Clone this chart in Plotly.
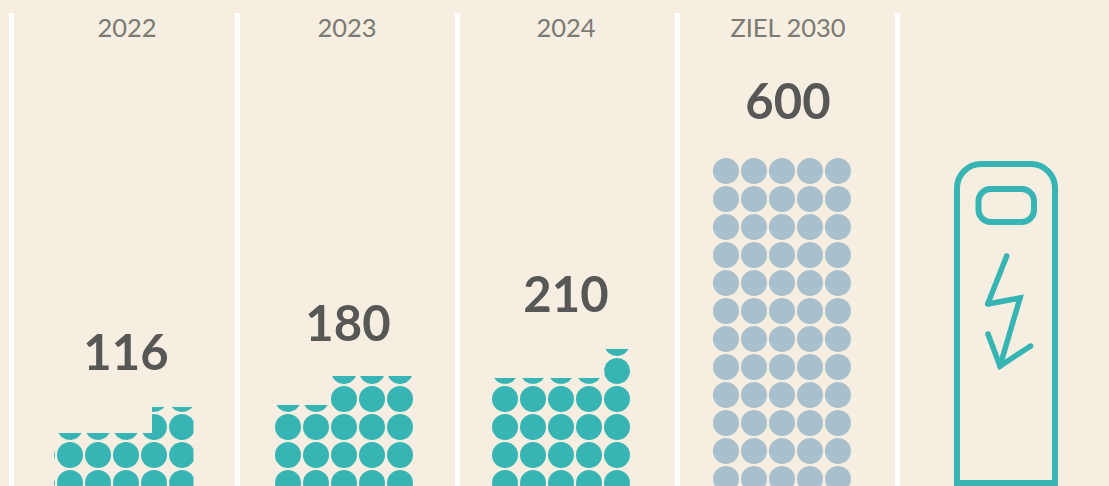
import numpy as np
import plotly.graph_objects as go

# ---- data ----
categories = ["2022", "2023", "2024", "ZIEL 2030"]
values = [116, 180, 210, 600]
stack_low = [2.29, 3.29, 4.25, 12.15]     # stack height (dot rows) of the left part of each block
stack_high = [3.21, 4.32, 5.29, 12.15]    # stack height (dot rows) of the right part of each block
step_column = [3.43, 2.03, 4.04, 0.0]     # column where the higher part starts
colours = ["#37b5b5", "#37b5b5", "#37b5b5", "#a8c0ce"]

# ---- layout constants (pixels) ----
W, H = 1109, 486
CELL = 28.0
BASE = 497.0
BG, TXT_HEAD, TXT_VAL, TEAL = "#f5eee1", "#7b7a74", "#575756", "#37b5b5"
FONT = "Lato"
col0_px = [70, 288, 505, 726]
left_clip = [-0.07, 0.0, 0.0, 0.0]
right_clip = [4.91, 4.98, 5.0, 5.0]
row_shift_px = [0, 0, 0, 4]
head_px = [127, 347, 566, 788]
value_px = [(126, 358), (348, 329), (566, 300), (788, 107)]
divider_px = [11.5, 237.5, 457.5, 677.5, 897.5]
R = 13.0 / CELL


def X(p):
    return p / CELL


def Y(p):
    return (BASE - p) / CELL


def clip_poly(pts, x0, x1, ytop):
    """Sutherland-Hodgman: keep the part of a polygon inside x0<=x<=x1, y<=ytop."""
    def cut(poly, inside, hit):
        out = []
        for i in range(len(poly)):
            a, b = poly[i - 1], poly[i]
            if inside(b):
                if not inside(a):
                    out.append(hit(a, b))
                out.append(b)
            elif inside(a):
                out.append(hit(a, b))
        return out

    def at_x(v):
        return lambda a, b: (v, a[1] + (b[1] - a[1]) * (v - a[0]) / (b[0] - a[0]))

    def at_y(v):
        return lambda a, b: (a[0] + (b[0] - a[0]) * (v - a[1]) / (b[1] - a[1]), v)

    pts = cut(pts, lambda p: p[0] >= x0, at_x(x0))
    if pts:
        pts = cut(pts, lambda p: p[0] <= x1, at_x(x1))
    if pts:
        pts = cut(pts, lambda p: p[1] <= ytop, at_y(ytop))
    return pts


fig = go.Figure()
theta = np.linspace(0, 2 * np.pi, 72, endpoint=False)
for g in range(len(categories)):
    mx, my, px_, py_ = [], [], [], []
    shift = row_shift_px[g] / CELL
    for c in range(-1, 5):
        cx = X(col0_px[g]) + c
        xleft = X(col0_px[g]) + left_clip[g] - 0.5
        xright = X(col0_px[g]) + right_clip[g] - 0.5
        xstep = X(col0_px[g]) + step_column[g] - 0.5
        for r in range(0, int(np.ceil(stack_high[g])) + 1):
            cy = r + 0.5 + shift
            rects = [(xleft, xright, stack_low[g]), (xstep, xright, stack_high[g])]
            whole = any(cx - R >= a and cx + R <= b and cy + R <= t for a, b, t in rects)
            if whole:
                mx.append(cx)
                my.append(cy)
                continue
            circle = [(cx + R * np.cos(t), cy + R * np.sin(t)) for t in theta]
            for a, b, t in rects:
                part = clip_poly(circle, a, b, t)
                if len(part) > 2:
                    px_ += [p[0] for p in part] + [part[0][0], None]
                    py_ += [p[1] for p in part] + [part[0][1], None]
    fig.add_trace(go.Scatter(x=mx, y=my, mode="markers", hoverinfo="skip",
                             marker=dict(size=26, color=colours[g], line=dict(width=0))))
    if px_:
        fig.add_trace(go.Scatter(x=px_, y=py_, mode="lines", fill="toself", fillcolor=colours[g],
                                 line=dict(width=0), hoverinfo="skip"))

# header and value labels
fig.add_trace(go.Scatter(x=[X(p) for p in head_px], y=[Y(31)] * 4, mode="text", text=categories,
                         textfont=dict(family=FONT, size=25.5, color=TXT_HEAD), hoverinfo="skip"))
fig.add_trace(go.Scatter(x=[X(p[0]) for p in value_px], y=[Y(p[1]) for p in value_px], mode="text",
                         text=[str(v) for v in values],
                         textfont=dict(family=FONT, size=49, color=TXT_VAL, weight="bold"),
                         hoverinfo="skip"))

shapes = []
for d in divider_px:
    shapes.append(dict(type="line", xref="x", yref="y", x0=X(d), x1=X(d), y0=Y(13), y1=Y(490),
                       line=dict(color="#ffffff", width=5)))


def pts(*vals):
    return " ".join(f"{X(vals[i]):.4f},{Y(vals[i + 1]):.4f}" for i in range(0, len(vals), 2))


def rrect(x0, y0, x1, y1, r, rb, k=0.45):
    q = k * r
    p = "M" + pts(x0 + r, y0) + " L" + pts(x1 - r, y0)
    p += " C" + pts(x1 - q, y0, x1, y0 + q, x1, y0 + r)
    if rb:
        p += " L" + pts(x1, y1 - r) + " C" + pts(x1, y1 - q, x1 - q, y1, x1 - r, y1)
        p += " L" + pts(x0 + r, y1) + " C" + pts(x0 + q, y1, x0, y1 - q, x0, y1 - r)
    else:
        p += " L" + pts(x1, y1) + " L" + pts(x0, y1)
    p += " L" + pts(x0, y0 + r) + " C" + pts(x0, y0 + q, x0 + q, y0, x0 + r, y0)
    return p + " Z"


shapes.append(dict(type="path", xref="x", yref="y", path=rrect(957, 164, 1055, 483, 24, False),
                   line=dict(color=TEAL, width=6)))
shapes.append(dict(type="path", xref="x", yref="y", path=rrect(978.5, 189, 1034, 222, 12, True),
                   line=dict(color=TEAL, width=6)))

bolt = [(1006.7, 256), (987.7, 304), (1020, 298), (1000, 366)]
arrow = [(988, 334), (1000, 366), (1030.7, 346)]
for line in (bolt, arrow):
    fig.add_trace(go.Scatter(x=[X(p[0]) for p in line], y=[Y(p[1]) for p in line], mode="lines",
                             line=dict(color=TEAL, width=5.5), hoverinfo="skip"))
    fig.add_trace(go.Scatter(x=[X(p[0]) for p in line], y=[Y(p[1]) for p in line], mode="markers",
                             marker=dict(size=5.5, color=TEAL, line=dict(width=0)), hoverinfo="skip"))

fig.update_layout(width=W, height=H, margin=dict(l=0, r=0, t=0, b=0), showlegend=False,
                  paper_bgcolor=BG, plot_bgcolor=BG, shapes=shapes,
                  xaxis=dict(range=[0, W / CELL], visible=False, fixedrange=True),
                  yaxis=dict(range=[Y(H), Y(0)], visible=False, fixedrange=True))
fig.write_html("out.html", config=dict(displayModeBar=False),
               post_script="document.body.style.margin='0';document.body.style.overflow='hidden';document.body.style.background='#f5eee1';")
